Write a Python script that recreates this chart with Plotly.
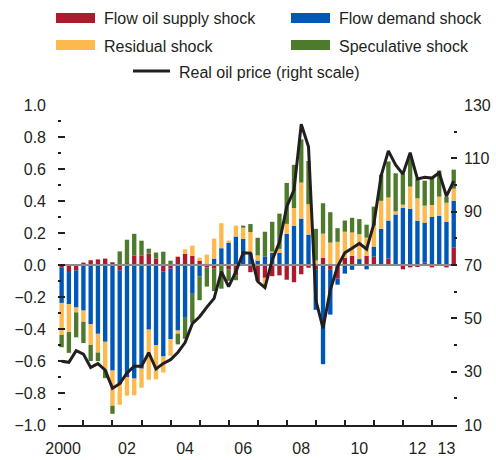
import plotly.graph_objects as go

# ---------------- data ----------------
quarters = [f"{y}Q{q}" for y in range(2000, 2014) for q in range(1, 5)][:55]

supply = [-0.017, -0.044, -0.033, 0.015, 0.030, 0.035, 0.040, 0.017,
          -0.033, 0.008, 0.060, 0.060, 0.071, 0.040, -0.042, -0.023,
          0.052, 0.071, 0.058, 0.027, -0.015, -0.023, 0.008, -0.029,
          -0.065, -0.005, -0.045, -0.100, -0.080, -0.070, -0.065, -0.092,
          -0.108, -0.058, -0.017, -0.030, 0.046, -0.030, -0.085, 0.046,
          0.058, 0.004, 0.058, 0.052, 0.006, 0.040, 0.006, -0.027,
          -0.015, -0.008, 0.015, -0.015, -0.005, -0.015, 0.108]

demand = [-0.220, -0.200, -0.233, -0.285, -0.370, -0.430, -0.480, -0.660,
          -0.710, -0.700, -0.710, -0.648, -0.404, -0.500, -0.530, -0.440,
          -0.410, -0.330, -0.180, -0.070, 0.000, 0.040, 0.097, 0.140,
          0.178, 0.163, 0.076, 0.028, 0.054, 0.075, 0.076, 0.194,
          0.246, 0.290, 0.190, -0.250, -0.620, -0.280, -0.038, -0.054,
          -0.030, 0.033, -0.027, 0.063, 0.220, 0.238, 0.310, 0.358,
          0.352, 0.277, 0.250, 0.300, 0.308, 0.270, 0.294]

residual = [-0.200, -0.175, -0.030, -0.070, -0.130, -0.117, -0.177, -0.220,
            -0.130, -0.117, -0.104, -0.119, -0.313, -0.215, -0.100, -0.104,
            -0.019, 0.027, 0.063, 0.019, 0.065, 0.125, 0.156, 0.013,
            0.068, 0.070, 0.130, 0.032, -0.062, 0.010, 0.025, 0.063,
            0.110, 0.225, 0.190, 0.028, 0.150, 0.140, 0.145, 0.162,
            0.145, 0.156, 0.113, 0.131, 0.175, 0.144, 0.019, 0.019,
            0.138, 0.140, 0.106, 0.075, 0.119, 0.119, 0.075]

speculative = [-0.077, -0.130, -0.156, -0.133, -0.100, -0.054, -0.050, -0.050,
               0.085, 0.150, 0.135, 0.092, 0.031, 0.038, 0.083, 0.027,
               -0.067, -0.131, -0.180, -0.150, -0.120, -0.140, -0.148, -0.070,
               -0.030, 0.013, 0.050, 0.110, 0.154, 0.185, 0.220, 0.256,
               0.270, 0.270, 0.270, 0.198, 0.190, 0.190, 0.085, 0.070,
               0.092, 0.094, 0.081, 0.119, 0.163, 0.225, 0.238, 0.194,
               0.175, 0.123, 0.156, 0.175, 0.163, 0.038, 0.119]

oil_price = [33.9, 33.5, 37.9, 36.6, 31.6, 33.0, 30.6, 23.8,
             25.5, 29.5, 32.0, 32.0, 37.1, 31.0, 33.1, 34.5,
             37.2, 40.9, 48.0, 50.6, 54.2, 57.5, 67.5, 61.9,
             67.5, 74.6, 74.4, 63.8, 61.5, 71.9, 78.5, 91.9,
             98.1, 122.8, 114.3, 56.9, 46.3, 60.6, 69.4, 74.6,
             76.3, 78.1, 75.9, 85.4, 103.4, 112.8, 107.5, 104.1,
             112.1, 102.3, 102.9, 102.6, 104.6, 95.8, 101.5]

year_labels = ["2000", "02", "04", "06", "08", "10", "12", "13"]
label_years = [2000, 2002, 2004, 2006, 2008, 2010, 2012, 2013]

left_ticks = [1.0, 0.8, 0.6, 0.4, 0.2, 0.0, -0.2, -0.4, -0.6, -0.8, -1.0]
right_ticks = [10, 30, 50, 70, 90, 110, 130]

# ---------------- style ----------------
RED, BLUE, YELLOW, GREEN = "#AD1A2E", "#0057B8", "#FDB94D", "#4E7A2C"
INK = "#231F20"
FONT = "Liberation Sans, Arial, sans-serif"
FS = 16

W, H = 496, 460
ML, MR, MT, MB = 58, 39, 105, 35
PW, PH = W - ML - MR, H - MT - MB

def pxx(x):
    return (x - ML) / PW

def pxy(y):
    return (H - MB - y) / PH

x = list(range(len(quarters)))
xr = [-0.5, len(quarters) - 0.55]

fig = go.Figure()
for name, vals, col in [("Flow oil supply shock", supply, RED),
                        ("Flow demand shock", demand, BLUE),
                        ("Residual shock", residual, YELLOW),
                        ("Speculative shock", speculative, GREEN)]:
    fig.add_trace(go.Bar(x=x, y=vals, name=name, marker_color=col,
                         marker_line_width=0, width=0.6, showlegend=False))

# zero reference line (drawn above bars)
fig.add_trace(go.Scatter(x=xr, y=[0, 0], mode="lines",
                         line=dict(color="#8C8C8C", width=2),
                         showlegend=False, hoverinfo="skip"))

fig.add_trace(go.Scatter(x=x, y=oil_price, yaxis="y2", mode="lines",
                         name="Real oil price (right scale)",
                         line=dict(color=INK, width=3), showlegend=False))

label_pos = [quarters.index(f"{y}Q2") for y in label_years]
label_pos[0] -= 0.8

fig.update_layout(
    width=W, height=H, barmode="relative",
    margin=dict(l=ML, r=MR, t=MT, b=MB),
    paper_bgcolor="white", plot_bgcolor="white",
    font=dict(family=FONT, size=FS, color=INK),
    xaxis=dict(range=xr, showgrid=False, zeroline=False, automargin=False,
               showline=True, linecolor=INK, linewidth=1.5,
               tickmode="array", tickvals=label_pos, ticktext=year_labels,
               ticks="", ticklabelstandoff=8,
               minor=dict(tick0=3, dtick=4, ticks="inside", ticklen=5,
                          tickwidth=1.5, tickcolor=INK, showgrid=False)),
    yaxis=dict(range=[-1, 1], showgrid=False, zeroline=False, showline=False,
               automargin=False,
               tickmode="array", tickvals=left_ticks,
               ticktext=[f"{v:.1f}".replace("-", "\u2212") for v in left_ticks],
               ticks="inside", ticklen=7, tickwidth=1.5, tickcolor=INK,
               ticklabelstandoff=11,
               minor=dict(tick0=0, dtick=0.1, ticks="inside", ticklen=3,
                          tickwidth=1.5, tickcolor=INK, showgrid=False)),
    yaxis2=dict(range=[10, 130], overlaying="y", side="right",
                showgrid=False, zeroline=False, showline=False, automargin=False,
                tickmode="array", tickvals=right_ticks,
                ticks="inside", ticklen=6, tickwidth=1.5, tickcolor=INK,
                ticklabelstandoff=6,
                minor=dict(tick0=10, dtick=10, ticks="inside", ticklen=3,
                           tickwidth=1.5, tickcolor=INK, showgrid=False)),
)

# ---------------- manual legend ----------------
shapes = []
annos = []
legend_items = [
    ("Flow oil supply shock", RED, 56, 18),
    ("Flow demand shock", BLUE, 291, 18),
    ("Residual shock", YELLOW, 56, 45),
    ("Speculative shock", GREEN, 291, 45),
]
for text, col, x0, yc in legend_items:
    shapes.append(dict(type="rect", xref="paper", yref="paper",
                       x0=pxx(x0), x1=pxx(x0 + 39), y0=pxy(yc - 5), y1=pxy(yc + 5),
                       fillcolor=col, line_width=0))
    annos.append(dict(text=text, xref="paper", yref="paper",
                      x=pxx(x0 + 46), y=pxy(yc + 1), xanchor="left", yanchor="middle",
                      showarrow=False, font=dict(family=FONT, size=FS, color=INK)))
shapes.append(dict(type="line", xref="paper", yref="paper",
                   x0=pxx(133), x1=pxx(170), y0=pxy(71), y1=pxy(71),
                   line=dict(color=INK, width=3)))
annos.append(dict(text="Real oil price (right scale)", xref="paper", yref="paper",
                  x=pxx(177), y=pxy(72), xanchor="left", yanchor="middle",
                  showarrow=False, font=dict(family=FONT, size=FS, color=INK)))

fig.update_layout(shapes=shapes, annotations=annos)
fig.write_html("out.html", config={"displayModeBar": False},
               post_script="document.body.style.margin='0';document.body.style.padding='0';")
